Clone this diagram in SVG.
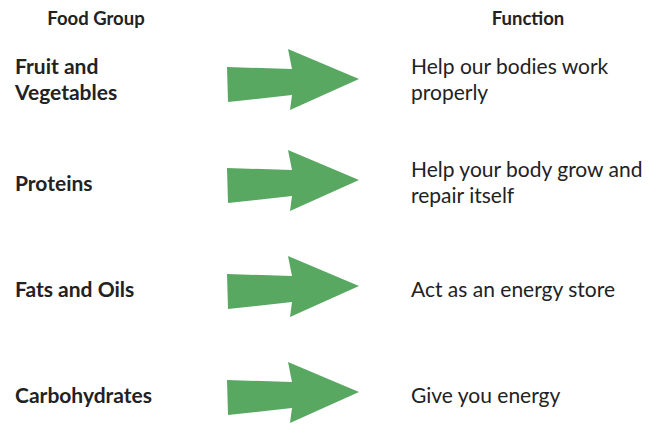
<svg xmlns="http://www.w3.org/2000/svg" width="659" height="427" viewBox="0 0 659 427">
<style>
.hdr{font-family:Lato,"Liberation Sans",sans-serif;font-weight:bold;font-size:18.5px;fill:#222;text-anchor:middle}
.grp{font-family:Lato,"Liberation Sans",sans-serif;font-weight:bold;font-size:21px;fill:#222}
.fn{font-family:Lato,"Liberation Sans",sans-serif;font-size:21px;fill:#222}
.arrow{fill:#58a862}
</style>
<defs>
<polygon id="arr" points="227,67 292,69 288,49 359,79 290,110 292,95 228,102"/>
</defs>
<rect width="659" height="427" fill="#fff"/>
<g id="headers">
<text class="hdr" x="96" y="25">Food Group</text>
<text class="hdr" x="528" y="25">Function</text>
</g>
<g id="fruit"><text class="grp" x="15" y="74">Fruit and</text><text class="grp" x="15" y="100">Vegetables</text></g>
<g id="proteins"><text class="grp" x="15" y="191">Proteins</text></g>
<g id="fats"><text class="grp" x="15" y="297">Fats and Oils</text></g>
<g id="carbs"><text class="grp" x="15" y="403">Carbohydrates</text></g>
<g id="fn1"><text class="fn" x="411" y="74">Help our bodies work</text><text class="fn" x="411" y="100">properly</text></g>
<g id="fn2"><text class="fn" x="411" y="177">Help your body grow and</text><text class="fn" x="411" y="203">repair itself</text></g>
<g id="fn3"><text class="fn" x="411" y="297">Act as an energy store</text></g>
<g id="fn4"><text class="fn" x="411" y="403">Give you energy</text></g>
<g id="connectors">
<use href="#arr" class="arrow"/>
<use href="#arr" class="arrow" transform="translate(0,101)"/>
<use href="#arr" class="arrow" transform="translate(0,207)"/>
<use href="#arr" class="arrow" transform="translate(0,313)"/>
</g>
</svg>
